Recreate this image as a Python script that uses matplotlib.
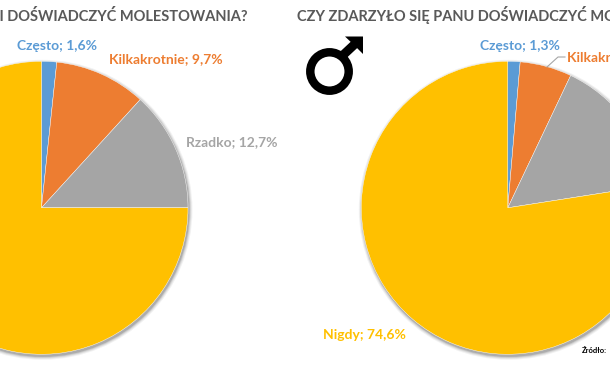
import matplotlib
matplotlib.use('Agg')
import matplotlib.pyplot as plt
from matplotlib.patches import Circle, Polygon

W, H = 610, 380
plt.rcParams['font.family'] = ['Lato', 'DejaVu Sans']

categories = ['Często', 'Kilkakrotnie', 'Rzadko', 'Nigdy']
colors = ['#5B9BD5', '#ED7D31', '#A5A5A5', '#FFC000']

# kobiety i mezczyzni
women = [1.6, 9.7, 12.7, 72.0]
men = [1.3, 5.5, 14.9, 74.6]

title_women = 'CZY ZDARZYŁO SIĘ PANI DOŚWIADCZYĆ MOLESTOWANIA?'
title_men = 'CZY ZDARZYŁO SIĘ PANU DOŚWIADCZYĆ MOLESTOWANIA?'

R = 146.5
centers = [(41.5, 207.8), (507.8, 207.8)]


def fx(x):
    return x / W


def fy(y):
    return 1 - y / H


def label(cat, val):
    return f'{cat}; {val:.1f}%'.replace('.', ',')


fig = plt.figure(figsize=(W / 100, H / 100), dpi=100)

# warstwa w pikselach: cien, symbol, linia
bg = fig.add_axes([0, 0, 1, 1], zorder=0)
bg.set_xlim(0, W)
bg.set_ylim(H, 0)
bg.axis('off')
for cx, cy in centers:
    for grow, a in [(3.5, 0.05), (2.5, 0.07), (1.5, 0.10), (0.6, 0.14)]:
        bg.add_patch(Circle((cx + 1, cy + 2), R + grow, color='black', alpha=a, lw=0))

for (cx, cy), vals in zip(centers, [women, men]):
    ax = fig.add_axes([fx(cx - R), fy(cy + R), 2 * R / W, 2 * R / H], zorder=1)
    ax.pie(vals, colors=colors, startangle=90, counterclock=False, radius=1,
           wedgeprops={'edgecolor': 'white', 'linewidth': 0.3})
    ax.set_xlim(-1, 1)
    ax.set_ylim(-1, 1)

top = fig.add_axes([0, 0, 1, 1], zorder=2)
top.set_xlim(0, W)
top.set_ylim(H, 0)
top.axis('off')
top.patch.set_alpha(0)

# symbol meski
top.add_patch(Circle((329.5, 71.5), 19.2, fill=False, edgecolor='black', linewidth=6.1))
top.plot([341, 356], [57, 43], color='black', lw=6.5, solid_capstyle='butt')
top.add_patch(Polygon([(345, 36.5), (363, 36.5), (363, 54), (354, 45)], color='black', lw=0))

# linia do etykiety
top.plot([547, 558, 565], [67, 57, 57], color='#A6A6A6', lw=0.8)

# tytuly
fig.text(fx(248), fy(21.5), title_women, fontsize=10.5, fontweight='bold', color='#595959', ha='right', zorder=3)
fig.text(fx(297), fy(21.5), title_men, fontsize=10.5, fontweight='bold', color='#595959', zorder=3)

# etykiety
fig.text(fx(17), fy(46), label(categories[0], women[0]), color=colors[0], fontsize=10, fontweight='bold', va='center', zorder=3)
fig.text(fx(109), fy(59), label(categories[1], women[1]), color=colors[1], fontsize=10, fontweight='bold', va='center', zorder=3)
fig.text(fx(186), fy(142), label(categories[2], women[2]), color=colors[2], fontsize=10, fontweight='bold', va='center', zorder=3)
fig.text(fx(480), fy(46), label(categories[0], men[0]), color=colors[0], fontsize=10, fontweight='bold', va='center', zorder=3)
fig.text(fx(567), fy(57), label(categories[1], men[1]), color=colors[1], fontsize=10, fontweight='bold', va='center', zorder=3)
fig.text(fx(323), fy(335), label(categories[3], men[3]), color=colors[3], fontsize=10, fontweight='bold', va='center', zorder=3)

fig.text(fx(581.5), fy(353), 'Źródło:', color='black', fontsize=5.5, fontweight='bold', zorder=3)

fig.savefig('out.png', dpi=100)
